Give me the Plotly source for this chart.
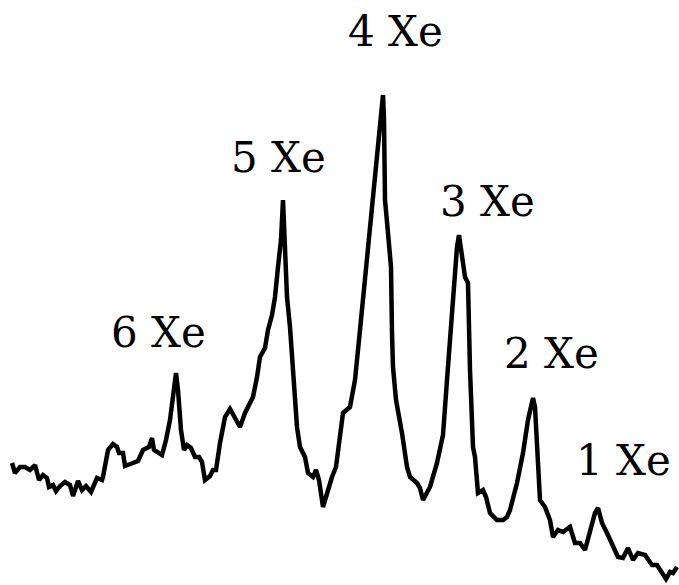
import plotly.graph_objects as go

# Spectrum (arbitrary channel vs. intensity units)
channel = [12,15,20,25,30,35,39,43,47,49,53,56,60,65,70,73,78,82,86,91,97,102,103,108,113,117,119,123,125,132,
           138,143,149,152,154,162,166,170,173,176,178,181,184,187,191,195,199,202,205,210,213,216,220,225,230,233,
           240,245,250,253,257,260,265,268,272,275,278,281,283,285,287,290,293,297,300,305,308,313,316,319,323,327,
           332,336,340,343,350,355,360,365,370,374,378,381,383,384,385,388,391,392,393,396,402,407,410,417,420,423,430,437,
           443,447,450,453,457,459,462,465,468,470,473,475,478,483,486,490,497,503,507,510,517,523,528,533,535,537,
           540,545,550,553,558,563,570,575,580,585,590,595,598,602,607,612,618,623,628,633,638,645,652,657,662,666,
           670,673,677]
intensity = [122,112,118,118,115,120,105,110,107,98,100,94,99,103,100,89,104,95,99,93,107,105,108,135,141,138,132,132,119,122,
             124,135,138,147,135,130,145,165,188,212,195,155,135,140,137,128,128,123,105,109,115,115,142,168,176,170,
             158,172,183,188,208,228,237,255,270,288,318,345,385,338,288,258,218,158,138,128,112,108,115,105,78,92,
             108,118,152,172,178,205,255,305,355,405,445,472,490,465,385,352,318,252,218,185,152,118,108,102,97,85,98,122,
             150,205,248,295,338,350,332,308,302,215,138,128,92,95,88,72,65,65,68,75,102,132,165,187,178,132,
             85,78,65,48,55,53,58,42,42,35,52,72,77,62,52,40,28,27,37,25,32,30,20,20,12,6,
             13,12,18]

labels = ["6 Xe", "5 Xe", "4 Xe", "3 Xe", "2 Xe", "1 Xe"]
label_x = [158, 278, 395, 487, 551, 623]
label_y = [253, 428, 554, 384, 232, 125]

fig = go.Figure()
fig.add_trace(go.Scatter(x=channel, y=intensity, mode="lines",
                         line=dict(color="black", width=4.5), hoverinfo="skip"))

for t, lx, ly in zip(labels, label_x, label_y):
    fig.add_annotation(x=lx, y=ly, text=t, showarrow=False,
                       xanchor="center", yanchor="middle",
                       font=dict(family="DejaVu Serif", size=42, color="black"))

fig.update_layout(
    width=679, height=585,
    margin=dict(l=0, r=0, t=0, b=0),
    paper_bgcolor="white", plot_bgcolor="white",
    showlegend=False,
    xaxis=dict(range=[0, 679], visible=False),
    yaxis=dict(range=[0, 585], visible=False),
)
fig.write_html("out.html")
